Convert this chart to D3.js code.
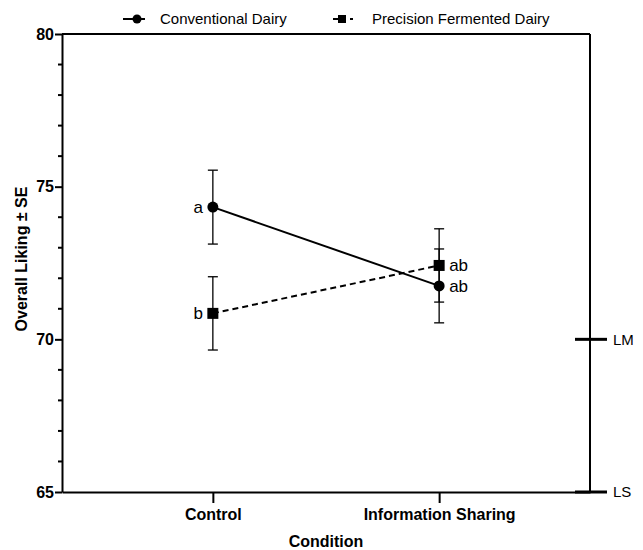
<!DOCTYPE html>
<html>
<head>
<meta charset="utf-8">
<script src="https://cdnjs.cloudflare.com/ajax/libs/d3/7.8.5/d3.min.js"></script>
<style>
    body { margin: 0; background: #fff; }
    text { font-family: Arial, "Liberation Sans", sans-serif; fill: #000; }
    .bold { font-weight: bold; }
</style>
</head>
<body>
<div id="chart"></div>
<script>
// data
var conditions = ["Control", "Information Sharing"];
var seriesNames = ["Conventional Dairy", "Precision Fermented Dairy"];
var conventionalMeans = [74.33, 71.75];
var conventionalSE = [1.21, 1.21];
var precisionMeans = [70.85, 72.42];
var precisionSE = [1.2, 1.2];
var conventionalLetters = ["a", "ab"];
var precisionLetters = ["b", "ab"];
var yTicks = [65, 70, 75, 80];
var refValues = [70, 65];
var refLabels = ["LM", "LS"];

var margin = {top: 34, right: 53, bottom: 58, left: 62},
    width = 643 - margin.left - margin.right,
    height = 550 - margin.top - margin.bottom;

var svg = d3.select("#chart").append("svg")
    .attr("width", 643)
    .attr("height", 550)
    .append("g")
    .attr("transform", "translate(" + margin.left + "," + margin.top + ")");

var x = d3.scalePoint()
    .domain(conditions)
    .range([0, width])
    .padding(2 / 3);

var y = d3.scaleLinear()
    .domain([65, 80])
    .range([height, 0]);

var series = [
    {name: seriesNames[0], means: conventionalMeans, se: conventionalSE, letters: conventionalLetters, shape: "circle", dash: null},
    {name: seriesNames[1], means: precisionMeans, se: precisionSE, letters: precisionLetters, shape: "square", dash: "6,4"}
];

// minor ticks
svg.selectAll(".minor")
    .data(d3.range(66, 80).filter(function (d) { return d % 5 !== 0; }))
    .enter().append("line")
    .attr("x1", -4).attr("x2", 0)
    .attr("y1", function (d) { return y(d); })
    .attr("y2", function (d) { return y(d); })
    .attr("stroke", "#000").attr("stroke-width", 2);

// y axis
var yAxis = svg.append("g")
    .call(d3.axisLeft(y).tickValues(yTicks).tickSize(7).tickSizeOuter(0));
yAxis.select(".domain").attr("stroke-width", 2);
yAxis.selectAll(".tick line").attr("stroke-width", 2);
yAxis.selectAll(".tick text").attr("class", "bold").style("font-size", "16px").attr("x", -8);

// x axis
var xAxis = svg.append("g")
    .attr("transform", "translate(0," + height + ")")
    .call(d3.axisBottom(x).tickSize(11).tickSizeOuter(0));
xAxis.select(".domain").attr("stroke-width", 2);
xAxis.selectAll(".tick line").attr("stroke-width", 2);
xAxis.selectAll(".tick text").attr("class", "bold").style("font-size", "16px").attr("y", 17);

// top border
svg.append("line")
    .attr("x1", 0).attr("x2", width)
    .attr("y1", 0).attr("y2", 0)
    .attr("stroke", "#000").attr("stroke-width", 2);

// right reference axis
svg.append("line")
    .attr("x1", width).attr("x2", width)
    .attr("y1", 0).attr("y2", height)
    .attr("stroke", "#000").attr("stroke-width", 2);

svg.selectAll(".ref")
    .data(refValues)
    .enter().append("line")
    .attr("x1", width - 15).attr("x2", width + 17)
    .attr("y1", function (d) { return y(d); })
    .attr("y2", function (d) { return y(d); })
    .attr("stroke", "#000").attr("stroke-width", 3);

svg.selectAll(".refLabel")
    .data(refValues)
    .enter().append("text")
    .attr("x", width + 23)
    .attr("y", function (d) { return y(d); })
    .attr("dy", "0.35em")
    .style("font-size", "15px")
    .text(function (d, i) { return refLabels[i]; });

// axis titles
svg.append("text")
    .attr("class", "bold")
    .attr("transform", "translate(-35," + (height / 2 - 4) + ") rotate(-90)")
    .style("text-anchor", "middle")
    .style("font-size", "16px")
    .text("Overall Liking ± SE");

svg.append("text")
    .attr("class", "bold")
    .attr("x", x.step() * (2 / 3 + 0.5))
    .attr("y", height + 55)
    .style("text-anchor", "middle")
    .style("font-size", "16px")
    .text("Condition");

var line = d3.line()
    .x(function (d, i) { return x(conditions[i]); })
    .y(function (d) { return y(d); });

function drawMarker(g, shape, cx, cy, size) {
    if (shape === "circle") {
        g.append("circle").attr("cx", cx).attr("cy", cy).attr("r", size / 2).attr("fill", "#000");
    } else {
        g.append("rect").attr("x", cx - size / 2).attr("y", cy - size / 2)
            .attr("width", size).attr("height", size).attr("fill", "#000");
    }
}

series.forEach(function (s) {
    var g = svg.append("g");

    // error bars
    s.means.forEach(function (m, i) {
        var cx = x(conditions[i]);
        g.append("line")
            .attr("x1", cx).attr("x2", cx)
            .attr("y1", y(m + s.se[i])).attr("y2", y(m - s.se[i]))
            .attr("stroke", "#000").attr("stroke-width", 1.3);
        [m + s.se[i], m - s.se[i]].forEach(function (v) {
            g.append("line")
                .attr("x1", cx - 5).attr("x2", cx + 5)
                .attr("y1", y(v)).attr("y2", y(v))
                .attr("stroke", "#000").attr("stroke-width", 1.3);
        });
    });

    g.append("path")
        .datum(s.means)
        .attr("d", line)
        .attr("fill", "none")
        .attr("stroke", "#000")
        .attr("stroke-width", 2)
        .attr("stroke-dasharray", s.dash);

    s.means.forEach(function (m, i) {
        drawMarker(g, s.shape, x(conditions[i]), y(m), 11);
    });

    // significance letters
    s.means.forEach(function (m, i) {
        var left = i === 0;
        g.append("text")
            .attr("x", x(conditions[i]) + (left ? -10 : 10))
            .attr("y", y(m))
            .attr("dy", "0.35em")
            .style("text-anchor", left ? "end" : "start")
            .style("font-size", "17px")
            .text(s.letters[i]);
    });
});

// legend
var legend = d3.select("svg").append("g").attr("class", "legend");
var legendX = [123, 333];
series.forEach(function (s, i) {
    var lg = legend.append("g").attr("transform", "translate(" + legendX[i] + ",19)");
    if (s.shape === "circle") {
        lg.append("line").attr("x1", 0).attr("x2", 22).attr("y1", 0).attr("y2", 0)
            .attr("stroke", "#000").attr("stroke-width", 2);
        drawMarker(lg, "circle", 14, 0, 9);
    } else {
        lg.append("line").attr("x1", 0).attr("x2", 5).attr("y1", 0).attr("y2", 0)
            .attr("stroke", "#000").attr("stroke-width", 2);
        drawMarker(lg, "square", 9, 0, 8);
        lg.append("line").attr("x1", 17).attr("x2", 20).attr("y1", 0).attr("y2", 0)
            .attr("stroke", "#000").attr("stroke-width", 2);
    }
    lg.append("text")
        .attr("x", s.shape === "circle" ? 37 : 39)
        .attr("y", 0)
        .attr("dy", "0.35em")
        .style("font-size", "15px")
        .text(s.name);
});
</script>
</body>
</html>
